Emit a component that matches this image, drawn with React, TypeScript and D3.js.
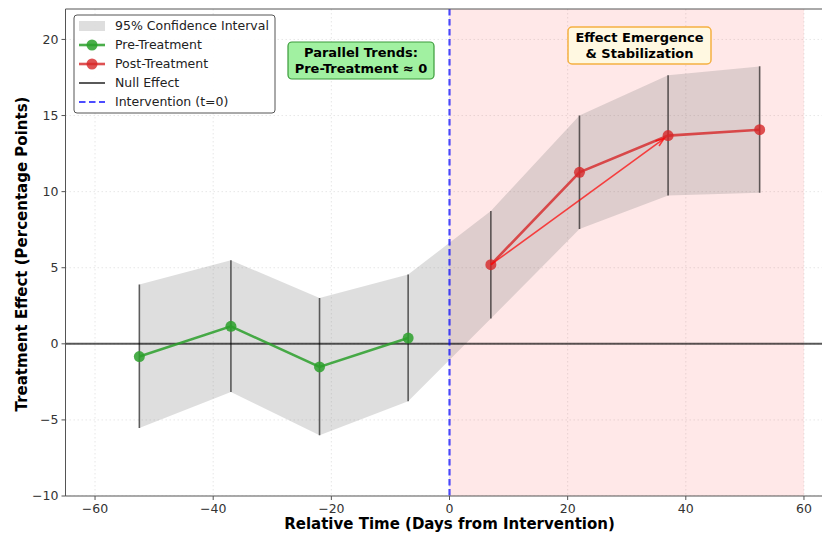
import React from "react";
import * as d3 from "d3";

// event-study estimates
const preDays = [-52.5, -37, -22, -7];
const preEffect = [-0.84, 1.15, -1.52, 0.38];
const preLower = [-5.53, -3.17, -6.01, -3.78];
const preUpper = [3.9, 5.49, 3.01, 4.55];

const postDays = [7, 22, 37, 52.5];
const postEffect = [5.2, 11.27, 13.68, 14.07];
const postLower = [1.66, 7.54, 9.74, 9.93];
const postUpper = [8.73, 15.01, 17.64, 18.23];

const xTicks = [-60, -40, -20, 0, 20, 40, 60];
const yTicks = [-10, -5, 0, 5, 10, 15, 20];

const legendItems = [
  "95% Confidence Interval",
  "Pre-Treatment",
  "Post-Treatment",
  "Null Effect",
  "Intervention (t=0)",
];

const WIDTH = 822;
const HEIGHT = 536;
const FONT = "DejaVu Sans, sans-serif";
const GREEN = "#2ca02c";
const RED = "#d62728";

const fmt = (v: number) => (v < 0 ? "\u2212" + Math.abs(v) : String(v));

export default function App() {
  const x = d3.scaleLinear().domain([-65, 65]).range([65.5, 833.5]);
  const y = d3.scaleLinear().domain([-10, 22]).range([496, 9]);
  const [x0, x1] = x.range();
  const [yb, yt] = y.range();

  const allDays = [...preDays, ...postDays];
  const allLower = [...preLower, ...postLower];
  const allUpper = [...preUpper, ...postUpper];

  const band = d3
    .area<number>()
    .x((_, i) => x(allDays[i]))
    .y0((_, i) => y(allLower[i]))
    .y1((_, i) => y(allUpper[i]));

  const line = (days: number[]) =>
    d3
      .line<number>()
      .x((_, i) => x(days[i]))
      .y((d) => y(d));

  // arrow from first post point to third
  const ax0 = x(postDays[0]);
  const ay0 = y(postEffect[0]);
  const ax1 = x(postDays[2]);
  const ay1 = y(postEffect[2]);
  const ang = Math.atan2(ay1 - ay0, ax1 - ax0);
  const tipX = ax1 - Math.cos(ang) * 5;
  const tipY = ay1 - Math.sin(ang) * 5;
  const head = (s: number) => [
    tipX - Math.cos(ang - s) * 9,
    tipY - Math.sin(ang - s) * 9,
  ];

  const legX = 74;
  const legY = 15;
  const rowH = 19;

  return (
    <svg
      width={WIDTH}
      height={HEIGHT}
      style={{ position: "absolute", left: 0, top: 0, background: "#fff" }}
      fontFamily={FONT}
    >
      <defs>
        <clipPath id="plot">
          <rect x={x0} y={yt} width={x1 - x0} height={yb - yt} />
        </clipPath>
      </defs>

      <g clipPath="url(#plot)">
        {/* grid */}
        {xTicks.map((t) => (
          <line key={"gx" + t} x1={x(t)} x2={x(t)} y1={yt} y2={yb}
            stroke="#b0b0b0" strokeOpacity={0.3} strokeDasharray="1.5,2.5" />
        ))}
        {yTicks.map((t) => (
          <line key={"gy" + t} x1={x0} x2={x1} y1={y(t)} y2={y(t)}
            stroke="#b0b0b0" strokeOpacity={0.3} strokeDasharray="1.5,2.5" />
        ))}

        {/* post-treatment shading */}
        <rect x={x(0)} y={yt} width={x(60) - x(0)} height={yb - yt}
          fill="red" fillOpacity={0.09} />

        {/* confidence band */}
        <path d={band(allDays) || ""} fill="#808080" fillOpacity={0.26} />

        {/* error bars */}
        {allDays.map((d, i) => (
          <line key={"eb" + i} x1={x(d)} x2={x(d)}
            y1={y(allLower[i])} y2={y(allUpper[i])}
            stroke="#000" strokeOpacity={0.6} strokeWidth={1.6} />
        ))}

        {/* null effect */}
        <line x1={x0} x2={x1} y1={y(0)} y2={y(0)}
          stroke="#000" strokeOpacity={0.65} strokeWidth={2} />

        {/* intervention */}
        <line x1={x(0)} x2={x(0)} y1={yt} y2={yb}
          stroke="#0000ff" strokeOpacity={0.7} strokeWidth={2.2}
          strokeDasharray="6.5,3.5" />

        {/* series */}
        <path d={line(preDays)(preEffect) || ""} fill="none" stroke={GREEN}
          strokeOpacity={0.85} strokeWidth={2.6} />
        {preDays.map((d, i) => (
          <circle key={"pc" + i} cx={x(d)} cy={y(preEffect[i])} r={5.5}
            fill={GREEN} fillOpacity={0.85} />
        ))}
        <path d={line(postDays)(postEffect) || ""} fill="none" stroke={RED}
          strokeOpacity={0.8} strokeWidth={2.6} />
        {postDays.map((d, i) => (
          <circle key={"rc" + i} cx={x(d)} cy={y(postEffect[i])} r={5.5}
            fill={RED} fillOpacity={0.8} />
        ))}

        {/* trend arrow */}
        <g stroke="red" strokeOpacity={0.7} strokeWidth={1.6} fill="none">
          <line x1={ax0} y1={ay0} x2={tipX} y2={tipY} />
          <polyline points={[head(0.35), [tipX, tipY], head(-0.35)].map((p) => p.join(",")).join(" ")} />
        </g>
      </g>

      {/* spines */}
      <line x1={x0} x2={x0} y1={yt} y2={yb} stroke="#555" strokeWidth={1} />
      <line x1={x0} x2={WIDTH} y1={yb} y2={yb} stroke="#555" strokeWidth={1} />
      <line x1={x0} x2={WIDTH} y1={yt} y2={yt} stroke="#555" strokeWidth={1} />

      {/* ticks */}
      {xTicks.map((t) => (
        <g key={"xt" + t} transform={`translate(${x(t)},${yb})`}>
          <line y2={4} stroke="#555" />
          <text y={17} textAnchor="middle" fontSize={12.5} fill="#333">{fmt(t)}</text>
        </g>
      ))}
      {yTicks.map((t) => (
        <g key={"yt" + t} transform={`translate(${x0},${y(t)})`}>
          <line x2={-4} stroke="#555" />
          <text x={-7} dy="0.35em" textAnchor="end" fontSize={12.5} fill="#333">{fmt(t)}</text>
        </g>
      ))}

      {/* axis titles */}
      <text x={449.5} y={529} textAnchor="middle" fontSize={15} fontWeight="bold">
        Relative Time (Days from Intervention)
      </text>
      <text transform="translate(27,254) rotate(-90)" textAnchor="middle"
        fontSize={15} fontWeight="bold">
        Treatment Effect (Percentage Points)
      </text>

      {/* annotations */}
      <rect x={288} y={42} width={146} height={37} rx={4} fill="#90ee90"
        fillOpacity={0.85} stroke="#3a9a3a" strokeWidth={1.2} />
      <text x={361} y={57} textAnchor="middle" fontSize={13} fontWeight="bold">Parallel Trends:</text>
      <text x={361} y={73} textAnchor="middle" fontSize={13} fontWeight="bold">Pre-Treatment ≈ 0</text>

      <rect x={568} y={27} width={143} height={37} rx={4} fill="#fff8e1"
        stroke="#f5b041" strokeWidth={1.5} />
      <text x={639.5} y={42} textAnchor="middle" fontSize={13} fontWeight="bold">Effect Emergence</text>
      <text x={639.5} y={58} textAnchor="middle" fontSize={13} fontWeight="bold">&amp; Stabilization</text>

      {/* legend */}
      <g transform={`translate(${legX},${legY})`}>
        <rect width={201} height={98} rx={3} fill="#fff" fillOpacity={0.9}
          stroke="#555" strokeWidth={1} />
        {legendItems.map((label, i) => {
          const cy = 11 + i * rowH;
          return (
            <g key={label}>
              {i === 0 && (
                <rect x={5} y={cy - 5} width={26} height={10} fill="#808080" fillOpacity={0.26} />
              )}
              {i === 1 && (
                <g>
                  <line x1={5} x2={31} y1={cy} y2={cy} stroke={GREEN} strokeOpacity={0.85} strokeWidth={2.6} />
                  <circle cx={18} cy={cy} r={5.5} fill={GREEN} fillOpacity={0.85} />
                </g>
              )}
              {i === 2 && (
                <g>
                  <line x1={5} x2={31} y1={cy} y2={cy} stroke={RED} strokeOpacity={0.8} strokeWidth={2.6} />
                  <circle cx={18} cy={cy} r={5.5} fill={RED} fillOpacity={0.8} />
                </g>
              )}
              {i === 3 && (
                <line x1={5} x2={31} y1={cy} y2={cy} stroke="#000" strokeOpacity={0.65} strokeWidth={2} />
              )}
              {i === 4 && (
                <line x1={5} x2={31} y1={cy} y2={cy} stroke="#0000ff" strokeOpacity={0.7}
                  strokeWidth={2.2} strokeDasharray="6.5,3.5" />
              )}
              <text x={41} y={cy} dy="0.35em" fontSize={12.5} fill="#222">{label}</text>
            </g>
          );
        })}
      </g>
    </svg>
  );
}
